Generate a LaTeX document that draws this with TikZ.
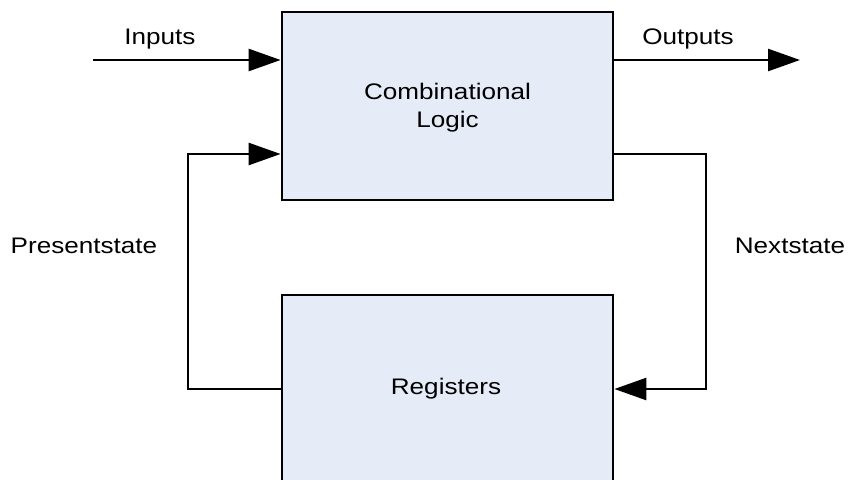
\documentclass[tikz,border=0pt]{standalone}
\usepackage{fontspec}
\setmainfont{Liberation Sans}
\usetikzlibrary{arrows.meta}
\definecolor{boxfill}{HTML}{E6ECF7}
\newcommand\lbl{\fontsize{22.5}{28}\selectfont}
\newcommand\wide[1]{\scalebox{1.16}[1]{#1}}
\begin{document}
\begin{tikzpicture}[x=1pt,y=-1pt,
  block/.style={draw=black,fill=boxfill,line width=2.8pt,
    minimum width=331pt,minimum height=188pt,inner sep=0pt},
  wire/.style={line width=2.6pt},
  flow/.style={wire,-{Triangle[length=32pt,width=22pt]}},
  lbl/.style={anchor=base,inner sep=0pt,font=\lbl}]
\clip (0,0) rectangle (850,479);
\useasboundingbox (0,0) rectangle (850,479);

% the two blocks
\node[block] (cl)  at (447.5,106) {};
\node[block] (reg) at (447.5,389) {};
\node[lbl] (cltxt1) at (447.5,99) {\wide{Combinational}};
\node[lbl] (cltxt2) at (447.5,127) {\wide{Logic}};
\node[lbl] (regtxt) at (446,394) {\wide{Registers}};

% primary inputs and outputs
\coordinate (in)  at (93,60);
\coordinate (out) at (800,60);
\draw[flow] (in) -- (in -| cl.west);
\draw[flow] (out -| cl.east) -- (out);
\node[lbl] (inlbl)  at (160,44) {\wide{Inputs}};
\node[lbl] (outlbl) at (688,44) {\wide{Outputs}};

% state feedback loop
\coordinate (ps) at (188,154);
\coordinate (ns) at (706,154);
\draw[flow] (reg.west) -| (ps) -- (ps -| cl.west);
\draw[flow] (ns -| cl.east) -- (ns) |- (reg.east);
\node[lbl] (pslbl) at (84,253) {\wide{Presentstate}};
\node[lbl] (nslbl) at (790,253) {\wide{Nextstate}};
\end{tikzpicture}
\end{document}
